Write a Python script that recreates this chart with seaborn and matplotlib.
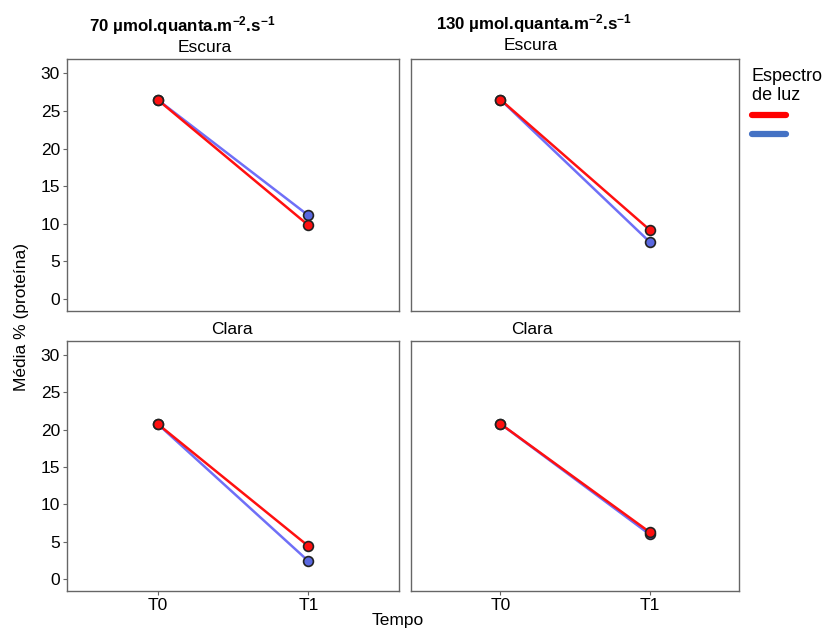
import pandas as pd
import matplotlib.pyplot as plt
from matplotlib.lines import Line2D
import seaborn as sns

# data
tempos = ['T0', 'T1']
luz = ['70', '130']
cor = ['Escura', 'Clara']
espectro = ['azul', 'vermelho']

# media (% proteina) per panel: [T0, T1]
escura_70_azul = [26.5, 11.1]
escura_70_verm = [26.5, 9.8]
escura_130_azul = [26.5, 7.6]
escura_130_verm = [26.5, 9.2]
clara_70_azul = [20.8, 2.4]
clara_70_verm = [20.8, 4.4]
clara_130_azul = [20.8, 6.0]
clara_130_verm = [20.8, 6.3]

rows = []
series = {
    ('Escura', '70'): (escura_70_azul, escura_70_verm),
    ('Escura', '130'): (escura_130_azul, escura_130_verm),
    ('Clara', '70'): (clara_70_azul, clara_70_verm),
    ('Clara', '130'): (clara_130_azul, clara_130_verm),
}
for (c, l), (az, vm) in series.items():
    for i, t in enumerate(tempos):
        rows.append({'cor': c, 'luz': l, 'tempo': i, 'espectro': 'azul', 'media': az[i]})
        rows.append({'cor': c, 'luz': l, 'tempo': i, 'espectro': 'vermelho', 'media': vm[i]})
df = pd.DataFrame(rows)

sns.set_style('white')
plt.rcParams['font.family'] = ['Liberation Sans', 'DejaVu Sans']
plt.rcParams['text.color'] = 'black'
plt.rcParams['xtick.color'] = 'black'
plt.rcParams['ytick.color'] = 'black'
plt.rcParams['mathtext.default'] = 'regular'

line_pal = {'azul': '#6f6ff7', 'vermelho': '#ff1010'}
mark_pal = {'azul': '#5a68e0', 'vermelho': '#ff1010'}

fig = plt.figure(figsize=(8.29, 6.30), dpi=100)
W, H = 829, 630
boxes = {
    ('Escura', '70'): (67, 59, 399, 311),
    ('Escura', '130'): (411, 59, 739, 311),
    ('Clara', '70'): (67, 341, 399, 591),
    ('Clara', '130'): (411, 341, 739, 591),
}

for (c, l), (x0, y0, x1, y1) in boxes.items():
    ax = fig.add_axes([x0 / W, 1 - y1 / H, (x1 - x0) / W, (y1 - y0) / H])
    sub = df[(df.cor == c) & (df.luz == l)]
    for esp in espectro:
        s = sub[sub.espectro == esp]
        sns.lineplot(data=s, x='tempo', y='media', color=line_pal[esp], lw=1.8,
                     ax=ax, legend=False)
        sns.scatterplot(data=s, x='tempo', y='media', color=mark_pal[esp], s=50,
                        edgecolor='#222222', linewidth=1.2, ax=ax, legend=False, zorder=5)
    ax.set_xlim(-0.6, 1.6)
    ax.set_ylim(-1.6, 31.9)
    ax.set_xlabel('')
    ax.set_ylabel('')
    for sp in ax.spines.values():
        sp.set_color('#666666')
        sp.set_linewidth(1.0)
    ax.tick_params(axis='both', length=3, width=0.8, color='#666666', labelsize=12.5,
                   labelcolor='black', pad=2, left=True, bottom=True)
    ax.set_yticks([0, 5, 10, 15, 20, 25, 30])
    ax.set_xticks([0, 1])
    if c == 'Escura':
        ax.set_xticklabels([])
        ax.tick_params(axis='x', length=0)
    else:
        ax.set_xticklabels(tempos)
    if l == '130':
        ax.set_yticklabels([])
        ax.tick_params(axis='y', length=0)

# panel titles (narrow bold face like the reference)
narrow = ['Liberation Sans Narrow', 'Liberation Sans', 'DejaVu Sans']
fig.text(182 / W, 1 - 26 / H, '70 \u00b5mol.quanta.m$^{-2}$.s$^{-1}$',
         ha='center', va='center', fontsize=12.2, fontweight='bold', family=narrow)
fig.text(534 / W, 1 - 24 / H, '130 \u00b5mol.quanta.m$^{-2}$.s$^{-1}$',
         ha='center', va='center', fontsize=12.2, fontweight='bold', family=narrow)
fig.text(205 / W, 1 - 47 / H, 'Escura', ha='center', va='center', fontsize=12.5)
fig.text(531 / W, 1 - 46 / H, 'Escura', ha='center', va='center', fontsize=12.5)
fig.text(232 / W, 1 - 329 / H, 'Clara', ha='center', va='center', fontsize=12.5)
fig.text(532 / W, 1 - 329 / H, 'Clara', ha='center', va='center', fontsize=12.5)

fig.text(22 / W, 1 - 317 / H, 'Média % (proteína)', rotation=90, ha='center',
         va='center', fontsize=12.5)
fig.text(398 / W, 1 - 620 / H, 'Tempo', ha='center', va='center', fontsize=12.5)

# legend
handles = [Line2D([], [], color='#ff0000', lw=4.5),
           Line2D([], [], color='#4472c4', lw=4.5)]
fig.legend(handles, ['', ''], title='Espectro\nde luz', loc='upper left',
           bbox_to_anchor=(742 / W, 1 - 58 / H), frameon=False, handlelength=2.5,
           handletextpad=0, labelspacing=0.35, borderpad=0.2,
           title_fontproperties={'size': 13}, alignment='left')

fig.savefig('out.png', dpi=100)
